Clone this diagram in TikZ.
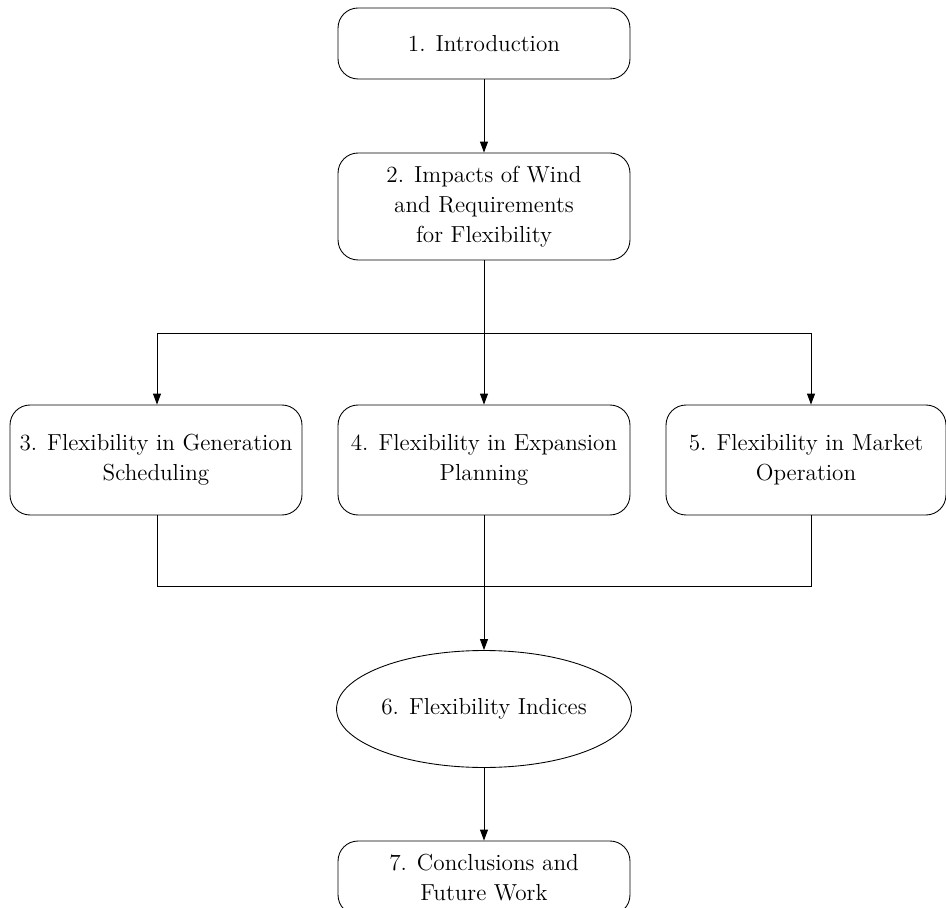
\documentclass[tikz,border=0pt]{standalone}
\usetikzlibrary{shapes.geometric,arrows.meta}
\begin{document}
\begin{tikzpicture}[x=0.02cm, y=-0.02cm, line width=0.5pt,
  sec/.style={draw, rounded corners=0.4cm, align=center, minimum width=5.84cm, inner sep=0pt, font=\fontsize{13.2}{17}\selectfont},
  arr/.style={-{Triangle[length=2.2mm,width=1.6mm]}}]
\useasboundingbox (0,0) rectangle (946,908);
\clip (0,0) rectangle (946,908);
\node[sec, minimum height=1.42cm] (sec1) at (484,43.5){1. Introduction};
\node[sec, minimum height=2.14cm] (sec2) at (484,206.5){2. Impacts of Wind\\and Requirements\\for Flexibility};
\node[sec, minimum height=2.2cm] (sec3) at (156,460){3. Flexibility in Generation\\Scheduling};
\node[sec, minimum height=2.2cm] (sec4) at (484,460){4. Flexibility in Expansion\\Planning};
\node[sec, minimum height=2.2cm, minimum width=5.6cm] (sec5) at (806,460){5. Flexibility in Market\\Operation};
\node[sec, ellipse, minimum width=5.9cm, minimum height=2.34cm] (sec6) at (484,709){6. Flexibility Indices};
\node[sec, minimum height=1.48cm] (sec7) at (484,878){7. Conclusions and\\Future Work};
\coordinate (top2) at (484,333);
\coordinate (top3) at (157,333);
\coordinate (top5) at (811,333);
\coordinate (bot4) at (484,586);
\coordinate (bot3) at (157,586);
\coordinate (bot5) at (811,586);
\draw[arr] (sec1) -- (sec2);
\draw (sec2) -- (top2);
\draw (top3) -- (top5);
\draw[arr] (top3) -- (top3 |- sec3.north);
\draw[arr] (top2) -- (sec4);
\draw[arr] (top5) -- (top5 |- sec5.north);
\draw (top3 |- sec3.south) -- (bot3) -- (bot5) -- (top5 |- sec5.south);
\draw (sec4) -- (bot4);
\draw[arr] (bot4) -- (sec6);
\draw[arr] (sec6) -- (sec7);
\end{tikzpicture}
\end{document}
